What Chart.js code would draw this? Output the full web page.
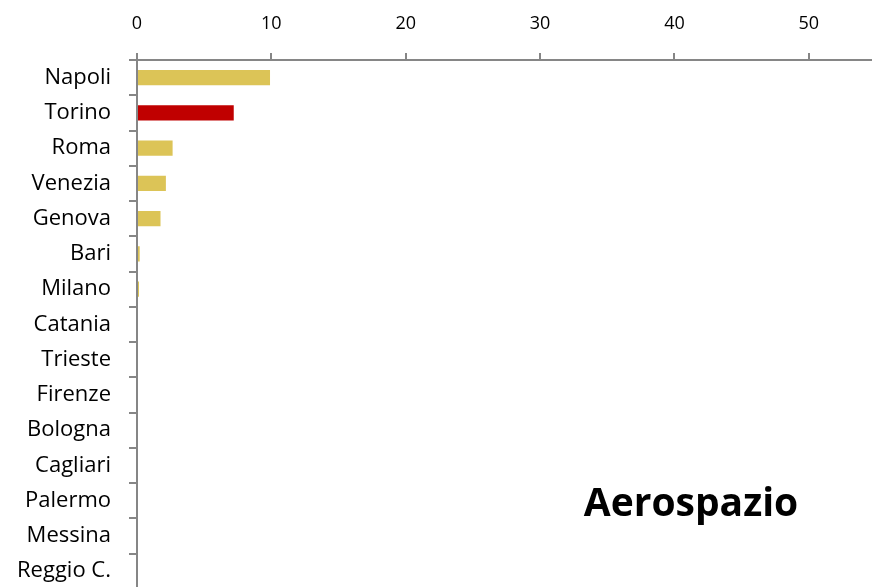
<!DOCTYPE html>
<html lang="it">
<head>
  <meta charset="UTF-8">
  <title>Aerospazio</title>
  <script src="https://cdn.jsdelivr.net/npm/chart.js"></script>
  <style>
    html, body { margin: 0; padding: 0; background: #fff; overflow: hidden; }
    #wrap { width: 872px; height: 587px; overflow: hidden; position: relative; }
    canvas { display: block; }
  </style>
</head>
<body>
  <div id="wrap">
    <canvas id="grafico" width="872" height="620"></canvas>
  </div>

  <script>
    // dati
    const citta = ['Napoli', 'Torino', 'Roma', 'Venezia', 'Genova', 'Bari', 'Milano', 'Catania',
                   'Trieste', 'Firenze', 'Bologna', 'Cagliari', 'Palermo', 'Messina', 'Reggio C.'];
    const valori = [9.9, 7.2, 2.65, 2.15, 1.75, 0.2, 0.15, 0, 0, 0, 0, 0, 0, 0, 0];
    const tickX = [0, 10, 20, 30, 40, 50];
    const settore = 'Aerospazio';
    const evidenziata = 'Torino';

    const grigio = '#868686';

    const titoloPlugin = {
      id: 'titolo',
      afterDraw(chart) {
        const c = chart.ctx;
        c.save();
        c.font = 'bold 39px "Open Sans"';
        c.fillStyle = '#000';
        c.textAlign = 'center';
        c.textBaseline = 'alphabetic';
        c.fillText(settore, 691, 516);
        c.restore();
      }
    };

    new Chart(document.getElementById('grafico'), {
      type: 'bar',
      data: {
        labels: citta,
        datasets: [{
          data: valori,
          backgroundColor: citta.map(c => c === evidenziata ? '#C00000' : '#DCC457'),
          barPercentage: 0.43,
          categoryPercentage: 1
        }]
      },
      options: {
        indexAxis: 'y',
        responsive: false,
        animation: false,
        layout: { padding: 0 },
        plugins: {
          legend: { display: false },
          tooltip: { enabled: false }
        },
        scales: {
          x: {
            position: 'top',
            min: 0,
            max: 54.7,
            afterBuildTicks: axis => { axis.ticks = tickX.map(v => ({ value: v })); },
            afterFit: axis => { axis.height = 60; },
            border: { color: grigio, width: 2 },
            grid: { drawOnChartArea: false, color: grigio, lineWidth: 2, tickLength: 7 },
            ticks: {
              color: '#000',
              padding: 18,
              font: { family: '"Open Sans"', size: 18 }
            }
          },
          y: {
            afterFit: axis => { axis.width = 137; },
            border: { color: grigio, width: 2 },
            grid: { drawOnChartArea: false, offset: true, color: grigio, lineWidth: 2, tickLength: 8 },
            ticks: {
              color: '#000',
              padding: 18,
              font: { family: '"Open Sans"', size: 22 }
            }
          }
        }
      },
      plugins: [titoloPlugin]
    });
  </script>
</body>
</html>
